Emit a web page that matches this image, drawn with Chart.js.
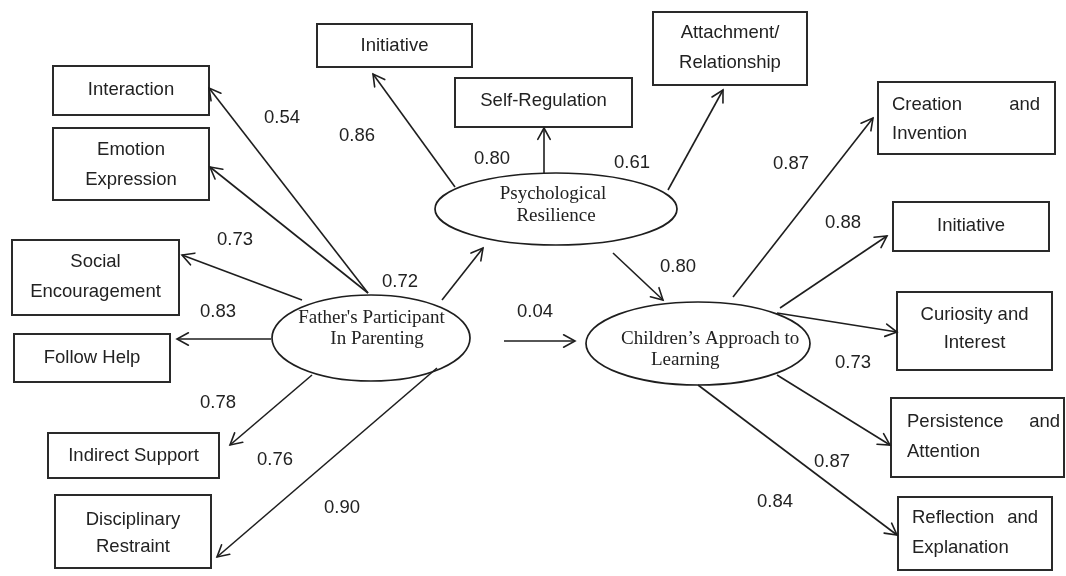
<!DOCTYPE html>
<html>
<head>
<meta charset="utf-8">
<script src="https://cdn.jsdelivr.net/npm/chart.js@4/dist/chart.umd.min.js"></script>
<style>
html,body{margin:0;padding:0;background:#fff;overflow:hidden}
#wrap{width:1066px;height:576px;position:relative}
</style>
</head>
<body>
<div id="wrap"><canvas id="c" width="1066" height="576"></canvas></div>
<script>
// ---------- DATA ----------
const indicatorNames = ['Interaction','Emotion\nExpression','Social\nEncouragement','Follow Help','Indirect Support','Disciplinary\nRestraint',
  'Initiative','Self-Regulation','Attachment/\nRelationship',
  'Creation and\nInvention','Initiative','Curiosity and\nInterest','Persistence and\nAttention','Reflection and\nExplanation'];
const indicatorFactor = [0,0,0,0,0,0,1,1,1,2,2,2,2,2];
const factorLoadings = [0.54,0.73,0.83,0.78,0.76,0.90,0.86,0.80,0.61,0.87,0.88,0.73,0.87,0.84];
const latentNames = ["Father's Participant\nIn Parenting", 'Psychological\nResilience', 'Children\u2019s Approach to\nLearning'];
const structuralFrom = [0,1,0];
const structuralTo = [1,2,2];
const structuralCoefficients = [0.72,0.80,0.04];

// ---------- LAYOUT (diagram units) ----------
const boxLayout = [[53,66,209,115],[53,128,209,200],[12,240,179,315],[14,334,170,382],[48,433,219,478],[55,495,211,568],
  [317,24,472,67],[455,78,632,127],[653,12,807,85],
  [878,82,1055,154],[893,202,1049,251],[897,292,1052,370],[891,398,1064,477],[898,497,1052,570]];
const boxTextY = [[90],[150,180],[262,292],[358],[456],[520,547],[46],[101],[33,63],[105,134],[226],[315,343],[422,452],[518,548]];
const boxJustify = [null,null,null,null,null,null,null,null,null,[892,1040],null,null,[907,1060],[912,1038]];
const latentLayout = [[371,338,99,43],[556,209,121,36],[698,343.5,112,41.5]];
const latentTextPos = [[[371.5,318,'center'],[377,339,'center']],[[553,194,'center'],[556,216,'center']],[[621,339,'left'],[651,360,'left']]];
const loadingArrows = [[368,293,209,88],[368,293,210,167],[302,300,182,255],[271,339,177,339],[312,375,230,445],[437,368,217,557],
  [455,187,373,74],[544,173,544,128],[668,190,723,90],
  [733,297,873,118],[780,308,887,236],[777,313,897,332],[777,375,890,445],[698,385,897,535]];
const loadingLabelPos = [[282,118],[235,240],[218,312],[218,403],[275,460],[342,508],[357,136],[492,159],[632,163],[791,164],[843,223],[853,363],[832,462],[775,502]];
const structuralArrows = [[442,300,483,248],[613,253,663,300],[504,341,575,341]];
const structuralLabelPos = [[400,282],[678,267],[535,312]];

const INK = '#1e1e1e';
const SANS = '"Liberation Sans", Arial, Helvetica, sans-serif';
const SERIF = '"Liberation Serif", "Times New Roman", serif';

const datasets = [];
loadingArrows.forEach((a, i) => datasets.push({
  label: indicatorNames[i].replace('\n',' '),
  data: [{x:a[0],y:a[1]},{x:a[2],y:a[3]}],
  showLine: true, borderColor: INK, borderWidth: 1.6, pointRadius: 0, fill: false
}));
structuralArrows.forEach((a, i) => datasets.push({
  label: latentNames[structuralFrom[i]] + ' -> ' + latentNames[structuralTo[i]],
  data: [{x:a[0],y:a[1]},{x:a[2],y:a[3]}],
  showLine: true, borderColor: INK, borderWidth: 1.6, pointRadius: 0, fill: false
}));

const diagramPlugin = {
  id: 'diagram',
  beforeDatasetsDraw(chart) {
    const ctx = chart.ctx, sx = chart.scales.x, sy = chart.scales.y;
    const X = v => sx.getPixelForValue(v), Y = v => sy.getPixelForValue(v);
    ctx.save();
    ctx.fillStyle = '#fff';
    ctx.fillRect(0,0,chart.width,chart.height);
    // boxes
    ctx.strokeStyle = '#2a2a2a';
    ctx.lineWidth = 2;
    boxLayout.forEach(b => {
      ctx.strokeRect(X(b[0]), Y(b[1]), X(b[2]) - X(b[0]), Y(b[3]) - Y(b[1]));
    });
    // ellipses
    ctx.lineWidth = 1.7;
    ctx.strokeStyle = INK;
    latentLayout.forEach(e => {
      ctx.beginPath();
      ctx.ellipse(X(e[0]), Y(e[1]), Math.abs(X(e[0]+e[2]) - X(e[0])), Math.abs(Y(e[1]+e[3]) - Y(e[1])), 0, 0, Math.PI*2);
      ctx.stroke();
    });
    ctx.restore();
  },
  afterDatasetsDraw(chart) {
    const ctx = chart.ctx, sx = chart.scales.x, sy = chart.scales.y;
    const X = v => sx.getPixelForValue(v), Y = v => sy.getPixelForValue(v);
    ctx.save();
    // arrowheads from dataset element positions
    ctx.strokeStyle = INK;
    ctx.lineWidth = 1.6;
    ctx.lineCap = 'round';
    chart.data.datasets.forEach((ds, i) => {
      const pts = chart.getDatasetMeta(i).data;
      const p0 = pts[0], p1 = pts[1];
      const ang = Math.atan2(p1.y - p0.y, p1.x - p0.x);
      const L = 13, w = 0.5;
      ctx.beginPath();
      ctx.moveTo(p1.x - L*Math.cos(ang - w), p1.y - L*Math.sin(ang - w));
      ctx.lineTo(p1.x, p1.y);
      ctx.lineTo(p1.x - L*Math.cos(ang + w), p1.y - L*Math.sin(ang + w));
      ctx.stroke();
    });
    // box texts
    ctx.fillStyle = '#222';
    ctx.textBaseline = 'middle';
    ctx.font = '18.5px ' + SANS;
    indicatorNames.forEach((name, i) => {
      const b = boxLayout[i];
      const lines = name.split('\n');
      const cx = (X(b[0]) + X(b[2])) / 2;
      lines.forEach((ln, k) => {
        const y = Y(boxTextY[i][k]);
        const j = boxJustify[i];
        if (j) {
          const words = ln.split(' ');
          if (k < lines.length - 1 && words.length > 1) {
            ctx.textAlign = 'left';
            ctx.fillText(words[0], X(j[0]), y);
            ctx.textAlign = 'right';
            ctx.fillText(words[words.length-1], X(j[1]), y);
          } else {
            ctx.textAlign = 'left';
            ctx.fillText(ln, X(j[0]), y);
          }
        } else {
          ctx.textAlign = 'center';
          ctx.fillText(ln, cx, y);
        }
      });
    });
    // latent texts
    ctx.font = '19px ' + SERIF;
    latentNames.forEach((name, i) => {
      name.split('\n').forEach((ln, k) => {
        const p = latentTextPos[i][k];
        ctx.textAlign = p[2];
        ctx.fillText(ln, X(p[0]), Y(p[1]));
      });
    });
    // coefficient labels
    ctx.font = '18.5px ' + SANS;
    ctx.textAlign = 'center';
    factorLoadings.forEach((v, i) => {
      const p = loadingLabelPos[i];
      ctx.fillText(v.toFixed(2), X(p[0]), Y(p[1]));
    });
    structuralCoefficients.forEach((v, i) => {
      const p = structuralLabelPos[i];
      ctx.fillText(v.toFixed(2), X(p[0]), Y(p[1]));
    });
    ctx.restore();
  }
};

new Chart(document.getElementById('c'), {
  type: 'scatter',
  data: { datasets },
  options: {
    responsive: false,
    animation: false,
    events: [],
    layout: { padding: 0 },
    plugins: { legend: { display: false }, tooltip: { enabled: false } },
    scales: {
      x: { type: 'linear', min: 0, max: 1066, display: false },
      y: { type: 'linear', min: 0, max: 576, reverse: true, display: false }
    },
    elements: { line: { tension: 0 } }
  },
  plugins: [diagramPlugin]
});
</script>
</body>
</html>
